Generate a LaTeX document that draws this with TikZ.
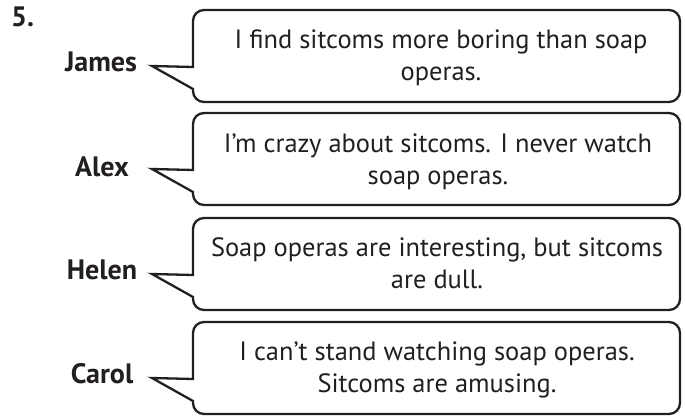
\documentclass[tikz,border=0pt]{standalone}
\usepackage{fontspec}
\setmainfont{PT Sans}
\definecolor{ink}{RGB}{35,31,32}
\newlength\calw
\settowidth{\calw}{\fontsize{10}{12}\selectfont I find sitcoms more boring than soap}
\pgfmathsetmacro{\sayfs}{10*413/\calw}
\settowidth{\calw}{\bfseries\fontsize{10}{12}\selectfont James}
\pgfmathsetmacro{\whofs}{10*72/\calw}
\newcommand\speechbubble[2]{%
  \pgfmathsetmacro{\tT}{415-#1}%
  \pgfmathsetmacro{\tB}{415-#1-92}%
  \pgfmathsetmacro{\tTip}{415-#1-56}%
  \pgfmathsetmacro{\tUp}{415-#1-57}%
  \pgfmathsetmacro{\tLo}{415-#1-79}%
  \draw[bubble] (152,\tTip) coordinate (#2tip) -- (193,\tUp) -- (193,\tT-11)
    arc[start angle=180,end angle=90,radius=11] -- (669,\tT)
    arc[start angle=90,end angle=0,radius=11] -- (680,\tB+11)
    arc[start angle=0,end angle=-90,radius=11] -- (204,\tB)
    arc[start angle=270,end angle=180,radius=11] -- (193,\tLo) -- cycle;
}
\begin{document}
\begin{tikzpicture}[x=1pt,y=1pt,
  bubble/.style={line width=2.3pt,line join=miter,draw=ink},
  say/.style={font=\fontsize{\sayfs}{32}\selectfont,align=center,text=ink,inner sep=0pt,text depth=0pt,anchor=south},
  who/.style={font=\bfseries\fontsize{\whofs}{30}\selectfont,text=ink,inner sep=0pt,anchor=base}]
\useasboundingbox (0,0) rectangle (685,415);
\speechbubble{10}{b1}
\speechbubble{113}{b2}
\speechbubble{218}{b3}
\speechbubble{322}{b4}
\node[who,anchor=base west] (num) at (11,415-27) {5.};
\node[who] (james) at (101,415-72) {James};
\node[who] (alex) at (102,415-177) {Alex};
\node[who] (helen) at (102,415-280) {Helen};
\node[who] (carol) at (102,415-383) {Carol};
\node[say] (t1) at (441,415-80.5) {I find sitcoms more boring than soap\\operas.};
\node[say] (t2) at (438,415-185) {I’m crazy about sitcoms. I never watch\\soap operas.};
\node[say] (t3) at (437,415-289) {Soap operas are interesting, but sitcoms\\are dull.};
\node[say] (t4) at (437,415-393) {I can’t stand watching soap operas.\\Sitcoms are amusing.};
\end{tikzpicture}
\end{document}
